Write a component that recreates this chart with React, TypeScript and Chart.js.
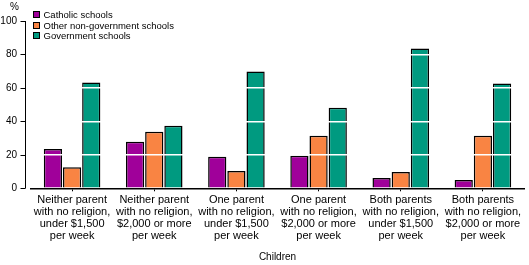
import React, { useEffect, useRef } from "react";
import { Chart, registerables } from "chart.js";

Chart.register(...registerables);

const categories: string[][] = [
  ["Neither parent", "with no religion,", "under $1,500", "per week"],
  ["Neither parent", "with no religion,", "$2,000 or more", "per week"],
  ["One parent", "with no religion,", "under $1,500", "per week"],
  ["One parent", "with no religion,", "$2,000 or more", "per week"],
  ["Both parents", "with no religion,", "under $1,500", "per week"],
  ["Both parents", "with no religion,", "$2,000 or more", "per week"],
];
const catholic = [23.5, 27.8, 18.8, 19.4, 6.2, 5.0];
const otherNonGov = [12.6, 33.8, 10.4, 31.4, 9.8, 31.4];
const government = [63.2, 37.4, 69.8, 48.2, 83.6, 62.6];
const seriesNames = ["Catholic schools", "Other non-government schools", "Government schools"];
const seriesColors = ["#A0009A", "#F98443", "#009A80"];
const yTicks = [0, 20, 40, 60, 80, 100];
const xTitle = "Children";
const yUnit = "%";

const FONT = "'Liberation Sans', Arial, sans-serif";

const yAxisLine = {
  id: "yAxisLine",
  afterDraw(chart: any) {
    const y = chart.scales.y;
    const ctx = chart.ctx;
    const x = chart.chartArea.left - 5.5;
    ctx.save();
    ctx.strokeStyle = "#000";
    ctx.lineWidth = 1;
    ctx.beginPath();
    ctx.moveTo(x, y.getPixelForValue(y.max));
    ctx.lineTo(x, y.getPixelForValue(y.min));
    for (const t of yTicks) {
      const py = Math.round(y.getPixelForValue(t)) + 0.5;
      ctx.moveTo(x - 5, py);
      ctx.lineTo(x, py);
    }
    ctx.stroke();
    ctx.restore();
  },
};

export default function App() {
  const ref = useRef<HTMLCanvasElement | null>(null);
  useEffect(() => {
    document.body.style.margin = "0";
    const ctx = ref.current!;
    const data = [catholic, otherNonGov, government];
    const chart = new Chart(ctx, {
      type: "bar",
      data: {
        labels: categories,
        datasets: data.map((d, i) => ({
          label: seriesNames[i],
          data: d,
          backgroundColor: seriesColors[i],
          borderColor: "#000",
          borderWidth: 1.5,
          categoryPercentage: 0.7,
          barPercentage: 0.95,
        })),
      },
      options: {
        animation: false,
        responsive: false,
        maintainAspectRatio: false,
        layout: { padding: { top: 21, right: 5, left: 0, bottom: 2 } },
        plugins: {
          legend: { display: false },
          tooltip: { enabled: false },
        },
        scales: {
          x: {
            afterFit: (s: any) => {
              s.paddingLeft = 0;
              s.paddingRight = 0;
            },
            grid: {
              offset: false,
              drawOnChartArea: false,
              tickLength: 3,
              tickColor: "#000",
              tickWidth: 1,
            },
            border: { color: "#000", width: 1.5 },
            ticks: {
              color: "#000",
              font: { family: FONT, size: 11, lineHeight: 12 / 11 },
              maxRotation: 0,
              autoSkip: false,
              padding: 2.2,
            },
            title: {
              display: true,
              text: xTitle,
              color: "#000",
              font: { family: FONT, size: 10, lineHeight: 1.2 },
              padding: { top: 7.3, bottom: 0 },
            },
          },
          y: {
            min: 0,
            max: 100,
            afterFit: (s: any) => {
              s.width = 31;
            },
            afterBuildTicks: (axis: any) => {
              axis.ticks = yTicks.map((v) => ({ value: v }));
            },
            grid: {
              z: 1,
              color: (c: any) => (c.tick && c.tick.value === 0 ? "rgba(0,0,0,0)" : "#fff"),
              lineWidth: 1.5,
              drawTicks: false,
            },
            border: { display: false },
            ticks: {
              color: "#000",
              font: { family: FONT, size: 10 },
              padding: 14,
            },
          },
        },
      },
      plugins: [yAxisLine],
    });
    return () => chart.destroy();
  }, []);

  return (
    <div style={{ position: "relative", width: 529, height: 265, background: "#fff" }}>
      <canvas ref={ref} width={529} height={265} style={{ display: "block" }} />
      <div
        style={{
          position: "absolute",
          left: 10,
          top: 1,
          fontFamily: FONT,
          fontSize: 10,
          color: "#000",
        }}
      >
        {yUnit}
      </div>
      <div
        style={{
          position: "absolute",
          left: 33,
          top: 9.5,
          fontFamily: FONT,
          fontSize: 9.5,
          color: "#000",
          lineHeight: "11px",
        }}
      >
        {seriesNames.map((n, i) => (
          <div key={n} style={{ display: "flex", alignItems: "center", height: 10.5 }}>
            <span
              style={{
                display: "inline-block",
                width: 5,
                height: 5,
                background: seriesColors[i],
                border: "1px solid #000",
                marginRight: 3.5,
              }}
            />
            <span>{n}</span>
          </div>
        ))}
      </div>
    </div>
  );
}
